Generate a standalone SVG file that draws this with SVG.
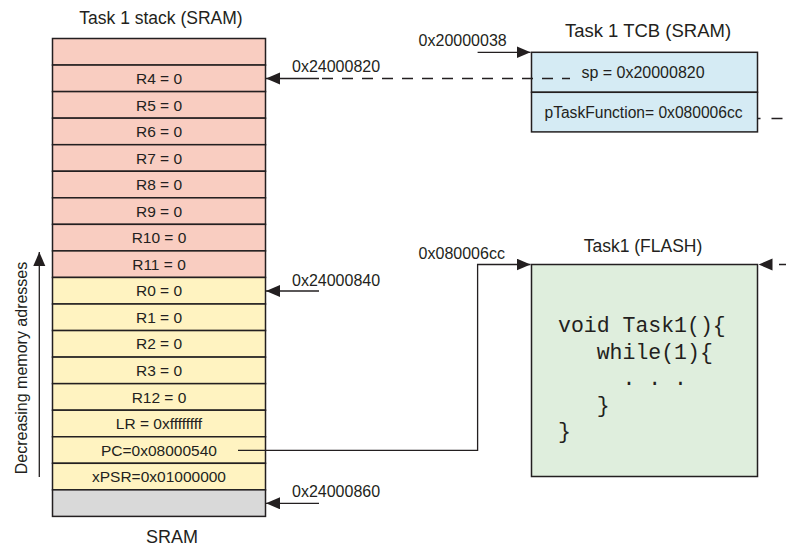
<svg xmlns="http://www.w3.org/2000/svg" width="789" height="548" viewBox="0 0 789 548">
  <defs>
    <marker id="head" markerUnits="userSpaceOnUse" markerWidth="15" markerHeight="13" refX="14" refY="6" orient="auto">
      <path d="M0,0 L14,6 L0,12 z" fill="#231f20"/>
    </marker>
    <style>
      text { font-family: "Liberation Sans", Arial, sans-serif; fill: #231f20; }
      .title { font-size: 17.5px; text-anchor: middle; }
      .cell { stroke: #231f20; stroke-width: 1.5; }
      .pink { fill: #f9cdc1; }
      .yellow { fill: #fff3c1; }
      .gray { fill: #d9d9d9; }
      .reg { font-size: 15.5px; text-anchor: middle; }
      .addr { font-size: 16px; }
      .wire { fill: none; stroke: #231f20; stroke-width: 1.3; }
      .dash { fill: none; stroke: #231f20; stroke-width: 1.3; stroke-dasharray: 11 9; }
      .code { font-family: "Liberation Mono", "Courier New", monospace; font-size: 21.5px; }
    </style>
  </defs>

  <!-- Stack frame titles -->
  <text class="title" x="161" y="24">Task 1 stack (SRAM)</text>
  <text class="title" x="172" y="543" style="font-size:18px">SRAM</text>

  <!-- Task 1 stack cells -->
  <g id="stack">
    <g id="cell-top"><rect class="cell pink" x="52.5" y="38.5" width="213" height="26.55"/></g>
    <g id="cell-r4"><rect class="cell pink" x="52.5" y="65.05" width="213" height="26.55"/><text class="reg" x="159" y="84">R4 = 0</text></g>
    <g id="cell-r5"><rect class="cell pink" x="52.5" y="91.6" width="213" height="26.55"/><text class="reg" x="159" y="110.5">R5 = 0</text></g>
    <g id="cell-r6"><rect class="cell pink" x="52.5" y="118.15" width="213" height="26.55"/><text class="reg" x="159" y="137">R6 = 0</text></g>
    <g id="cell-r7"><rect class="cell pink" x="52.5" y="144.7" width="213" height="26.55"/><text class="reg" x="159" y="163.5">R7 = 0</text></g>
    <g id="cell-r8"><rect class="cell pink" x="52.5" y="171.25" width="213" height="26.55"/><text class="reg" x="159" y="190">R8 = 0</text></g>
    <g id="cell-r9"><rect class="cell pink" x="52.5" y="197.8" width="213" height="26.55"/><text class="reg" x="159" y="216.6">R9 = 0</text></g>
    <g id="cell-r10"><rect class="cell pink" x="52.5" y="224.35" width="213" height="26.55"/><text class="reg" x="159" y="243.2">R10 = 0</text></g>
    <g id="cell-r11"><rect class="cell pink" x="52.5" y="250.9" width="213" height="26.55"/><text class="reg" x="159" y="269.7">R11 = 0</text></g>
    <g id="cell-r0"><rect class="cell yellow" x="52.5" y="277.45" width="213" height="26.55"/><text class="reg" x="159" y="296.3">R0 = 0</text></g>
    <g id="cell-r1"><rect class="cell yellow" x="52.5" y="304" width="213" height="26.55"/><text class="reg" x="159" y="322.8">R1 = 0</text></g>
    <g id="cell-r2"><rect class="cell yellow" x="52.5" y="330.55" width="213" height="26.55"/><text class="reg" x="159" y="349.4">R2 = 0</text></g>
    <g id="cell-r3"><rect class="cell yellow" x="52.5" y="357.1" width="213" height="26.55"/><text class="reg" x="159" y="375.9">R3 = 0</text></g>
    <g id="cell-r12"><rect class="cell yellow" x="52.5" y="383.65" width="213" height="26.55"/><text class="reg" x="159" y="402.5">R12 = 0</text></g>
    <g id="cell-lr"><rect class="cell yellow" x="52.5" y="410.2" width="213" height="26.55"/><text class="reg" x="159" y="429">LR = 0xffffffff</text></g>
    <g id="cell-pc"><rect class="cell yellow" x="52.5" y="436.75" width="213" height="26.55"/><text class="reg" x="159" y="455.6">PC=0x08000540</text></g>
    <g id="cell-xpsr"><rect class="cell yellow" x="52.5" y="463.3" width="213" height="26.55"/><text class="reg" x="159" y="482.1">xPSR=0x01000000</text></g>
    <g id="cell-free"><rect class="cell gray" x="52.5" y="489.85" width="213" height="26.55"/></g>
  </g>

  <!-- Growth direction -->
  <g id="direction">
    <line class="wire" x1="39.3" y1="477" x2="39.3" y2="252" marker-end="url(#head)"/>
    <text class="addr" transform="translate(26.5 368) rotate(-90)" text-anchor="middle">Decreasing memory adresses</text>
  </g>

  <!-- Task control block -->
  <g id="tcb">
    <text class="title" x="648" y="37" style="font-size:18.5px">Task 1 TCB (SRAM)</text>
    <rect class="cell" x="531.5" y="52.3" width="226" height="40" fill="#d5ebf4"/>
    <rect class="cell" x="531.5" y="92.3" width="226" height="39.6" fill="#d5ebf4"/>
    <text class="addr" x="643" y="77.5" text-anchor="middle">sp = 0x20000820</text>
    <text class="addr" x="643.5" y="117.5" text-anchor="middle" style="font-size:15.6px">pTaskFunction= 0x080006cc</text>
  </g>

  <!-- Task function in flash -->
  <g id="task1">
    <text class="title" x="643" y="251.5">Task1 (FLASH)</text>
    <rect class="cell" x="531.5" y="264.5" width="226" height="212" fill="#dfeedd"/>
    <text class="code" x="558" y="332">void Task1(){</text>
    <text class="code" x="596.7" y="358.5">while(1){</text>
    <text class="code" x="622.5" y="385" xml:space="preserve">. . .</text>
    <text class="code" x="596.7" y="411.5">}</text>
    <text class="code" x="558" y="438">}</text>
  </g>

  <!-- Address labels -->
  <g id="labels">
    <text class="addr" x="292" y="72">0x24000820</text>
    <text class="addr" x="292" y="285.5">0x24000840</text>
    <text class="addr" x="292" y="496.7">0x24000860</text>
    <text class="addr" x="418.6" y="46">0x20000038</text>
    <text class="addr" x="418.6" y="258.5">0x080006cc</text>
  </g>

  <!-- Connectors -->
  <g id="connectors">
    <line class="wire" x1="319" y1="78.5" x2="266" y2="78.5" marker-end="url(#head)"/>
    <line class="dash" x1="322" y1="78.5" x2="570" y2="78.5"/>
    <line class="wire" x1="319" y1="291" x2="266" y2="291" marker-end="url(#head)"/>
    <line class="wire" x1="319" y1="503.3" x2="266" y2="503.3" marker-end="url(#head)"/>
    <line class="wire" x1="477.6" y1="52.3" x2="530.5" y2="52.3" marker-end="url(#head)"/>
    <path class="wire" d="M238,450.3 H477.6 V264.5 H530.5" marker-end="url(#head)"/>
    <line class="wire" x1="757.5" y1="118.5" x2="789" y2="118.5" style="stroke-dasharray:11 11;stroke-dashoffset:8"/>
    <line class="wire" x1="786" y1="264.5" x2="758.5" y2="264.5" style="stroke-dasharray:7 8" marker-end="url(#head)"/>
  </g>
</svg>
